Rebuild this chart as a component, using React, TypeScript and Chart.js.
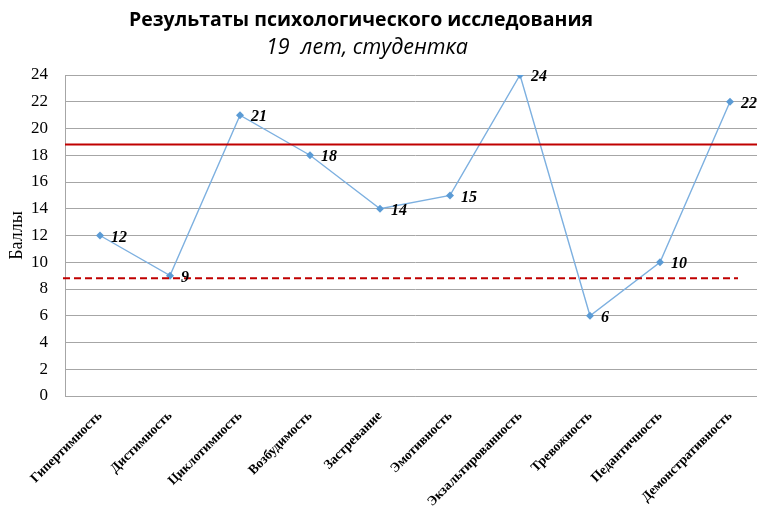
import React, { useEffect, useRef } from "react";
import { Chart, registerables } from "chart.js";

Chart.register(...registerables);

const categories = [
  "Гипертимность",
  "Дистимность",
  "Циклотимность",
  "Возбудимость",
  "Застревание",
  "Эмотивность",
  "Экзальтированность",
  "Тревожность",
  "Педантичность",
  "Демонстративность",
];
const scores = [12, 9, 21, 18, 14, 15, 24, 6, 10, 22];
const upperLevel = 18.8;
const lowerLevel = 8.8;
const titleText = "Результаты психологического исследования";
const subtitleText = "19  лет, студентка";
const yAxisTitle = "Баллы";

const overlayPlugin = {
  id: "overlay",
  afterDatasetsDraw(chart: any) {
    const ctx = chart.ctx;
    const { left, right } = chart.chartArea;
    const x = chart.scales.x;
    const y = chart.scales.y;
    ctx.save();
    ctx.strokeStyle = "#C00000";
    ctx.lineWidth = 2;
    ctx.beginPath();
    const yu = y.getPixelForValue(upperLevel);
    ctx.moveTo(left, yu);
    ctx.lineTo(right, yu);
    ctx.stroke();
    ctx.setLineDash([7, 4]);
    ctx.beginPath();
    const yl = y.getPixelForValue(lowerLevel);
    ctx.moveTo(left - 2, yl);
    ctx.lineTo(x.getPixelForValue(categories.length - 1) + 8, yl);
    ctx.stroke();
    ctx.setLineDash([]);
    ctx.fillStyle = "#000";
    ctx.font = "italic bold 16px 'Liberation Serif', serif";
    ctx.textBaseline = "middle";
    ctx.textAlign = "left";
    const meta = chart.getDatasetMeta(0);
    meta.data.forEach((pt: any, i: number) => {
      ctx.fillText(String(scores[i]), pt.x + 11, pt.y + 2);
    });
    ctx.textAlign = "center";
    ctx.font = "bold 19.5px 'Open Sans', sans-serif";
    ctx.fillText(titleText, 361, 20);
    ctx.font = "italic 21.5px 'Open Sans', sans-serif";
    ctx.fillText(subtitleText, 367, 48);
    ctx.restore();
  },
};

export default function App() {
  const ref = useRef<HTMLCanvasElement>(null);
  useEffect(() => {
    const chart = new Chart(ref.current!, {
      type: "line",
      data: {
        labels: categories,
        datasets: [
          {
            data: scores,
            borderColor: "#7DB0E0",
            backgroundColor: "#5B9BD5",
            borderWidth: 1.4,
            pointStyle: "rectRot",
            pointRadius: 4,
            pointBorderWidth: 0,
            tension: 0,
          },
        ],
      },
      options: {
        responsive: false,
        animation: false,
        layout: { padding: { top: 75, right: 5, left: 6, bottom: 0 } },
        plugins: { legend: { display: false }, tooltip: { enabled: false } },
        scales: {
          x: {
            offset: true,
            afterFit: (scale: any) => {
              scale.paddingLeft = 0;
              scale.paddingRight = 0;
              scale.height = 114;
            },
            grid: { display: false, drawTicks: false },
            border: { color: "#A6A6A6" },
            ticks: {
              minRotation: 45,
              maxRotation: 45,
              color: "#000",
              padding: 12,
              font: { family: "'Liberation Serif', serif", size: 13.5, weight: "bold" },
            },
          },
          y: {
            min: 0,
            max: 24,
            afterFit: (scale: any) => {
              scale.width = 59;
            },
            grid: { color: "#A6A6A6", drawTicks: false },
            border: { color: "#A6A6A6" },
            ticks: {
              stepSize: 2,
              color: "#000",
              padding: 17,
              font: { family: "'Liberation Serif', serif", size: 17 },
            },
            title: {
              display: true,
              text: yAxisTitle,
              color: "#000",
              padding: { top: 0, bottom: 2 },
              font: { family: "'Liberation Serif', serif", size: 18 },
            },
          },
        },
      },
      plugins: [overlayPlugin],
    });
    return () => chart.destroy();
  }, []);
  return (
    <div style={{ position: "fixed", left: 0, top: 0, width: 757, height: 510, overflow: "hidden", background: "#fff" }}>
      <canvas ref={ref} width={770} height={510} />
    </div>
  );
}
